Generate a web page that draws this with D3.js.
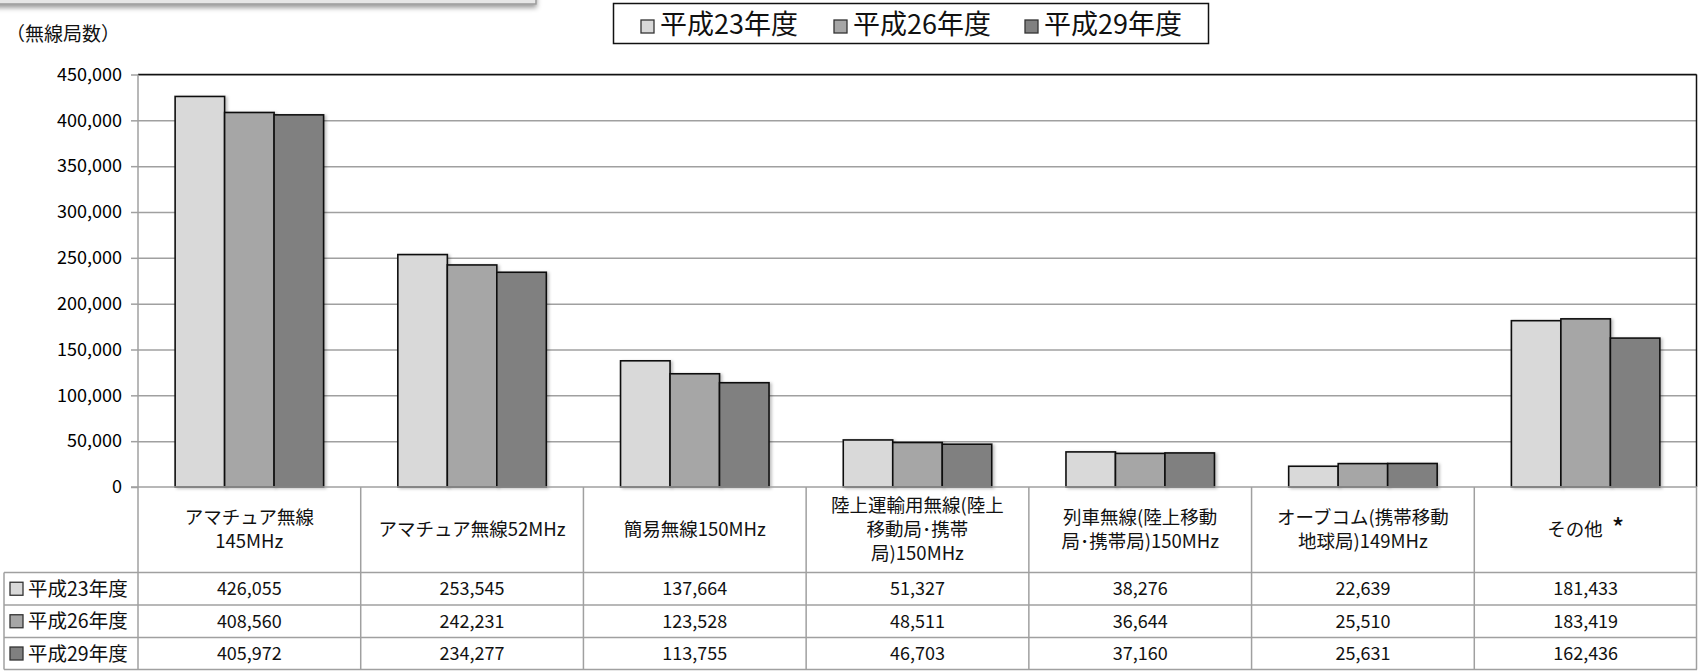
<!DOCTYPE html>
<html><head><meta charset="utf-8">
<script src="https://cdn.jsdelivr.net/npm/d3@7"></script>
<style>body{margin:0;background:#fff;overflow:hidden}</style>
</head><body><svg id="c" width="1698" height="671"></svg>
<script>
// ---- data ----
const categories = ["アマチュア無線145MHz","アマチュア無線52MHz","簡易無線150MHz","陸上運輸用無線(陸上移動局・携帯局)150MHz","列車無線(陸上移動局・携帯局)150MHz","オーブコム(携帯移動地球局)149MHz","その他 *"];
const categoryLines = [["アマチュア無線","145MHz"],["アマチュア無線52MHz"],["簡易無線150MHz"],["陸上運輸用無線(陸上","移動局･携帯","局)150MHz"],["列車無線(陸上移動","局･携帯局)150MHz"],["オーブコム(携帯移動","地球局)149MHz"],["その他\u2002*"]];
const seriesNames = ["平成23年度","平成26年度","平成29年度"];
const h23 = [426055,253545,137664,51327,38276,22639,181433];
const h26 = [408560,242231,123528,48511,36644,25510,183419];
const h29 = [405972,234277,113755,46703,37160,25631,162436];
const yTicks = [0,50000,100000,150000,200000,250000,300000,350000,400000,450000];
const yTitle = "（無線局数）";
const colors = ["#d9d9d9","#a6a6a6","#808080"];

const seriesValues = [h23,h26,h29];
const FONT = "'Noto Sans CJK JP', sans-serif";
const svg = d3.select("#c");
const L = 138, R = 1697, T = 74.5, B = 487;
const rowY = [572.5, 605, 637.5, 669.5];
const leftX = 4;

const defs = svg.append("defs");
const sh = defs.append("filter").attr("id","sh").attr("x","-20%").attr("y","-20%").attr("width","150%").attr("height","150%");
sh.append("feDropShadow").attr("dx",2).attr("dy",1).attr("stdDeviation",1.5).attr("flood-color","#000").attr("flood-opacity",0.25);
const sh2 = defs.append("filter").attr("id","sh2").attr("x","-5%").attr("y","-100%").attr("width","110%").attr("height","400%");
sh2.append("feDropShadow").attr("dx",0).attr("dy",3).attr("stdDeviation",2.5).attr("flood-color","#000").attr("flood-opacity",0.4);

// top-left cropped box
svg.append("rect").attr("x",-10).attr("y",-20).attr("width",546).attr("height",24)
  .attr("fill","#e6e6e6").attr("stroke","#9a9a9a").attr("stroke-width",1.5).attr("filter","url(#sh2)");

const x = d3.scaleBand().domain(categories).range([L,R]).paddingInner(0).paddingOuter(0);
const xs = d3.scaleBand().domain(seriesNames).range([0,x.bandwidth()]).paddingInner(0).paddingOuter(0.75);
const y = d3.scaleLinear().domain([0,450000]).range([B,T]);

// gridlines
const grid = svg.append("g").attr("transform",`translate(${L},0)`)
  .call(d3.axisLeft(y).tickValues(yTicks.filter(d=>d>0)).tickSize(-(R-L)).tickFormat(""));
grid.select(".domain").remove();
grid.selectAll("line").attr("stroke","#a0a0a0").attr("stroke-width",1.5);

// y axis
const ax = svg.append("g").attr("transform",`translate(${L},0)`)
  .call(d3.axisLeft(y).tickValues(yTicks).tickSize(7).tickPadding(9).tickFormat(d3.format(",")));
ax.select(".domain").remove();
ax.selectAll("line").attr("stroke","#a0a0a0").attr("stroke-width",1.5);
ax.selectAll("text").attr("font-family",FONT).attr("font-size",18).attr("fill","#000");

// plot border top/right
svg.append("line").attr("x1",L).attr("x2",R-0.5).attr("y1",T).attr("y2",T).attr("stroke","#111").attr("stroke-width",1.5);
svg.append("line").attr("x1",R-0.5).attr("x2",R-0.5).attr("y1",T).attr("y2",B).attr("stroke","#111").attr("stroke-width",1.5);

// bars
const gBars = svg.append("g");
seriesNames.forEach((s,si)=>{
  gBars.append("g").selectAll("rect").data(categories).join("rect")
    .attr("x",c=>x(c)+xs(s)).attr("width",xs.bandwidth())
    .attr("y",(c,i)=>y(seriesValues[si][i]))
    .attr("height",(c,i)=>B-y(seriesValues[si][i]))
    .attr("fill",colors[si]).attr("stroke","#111").attr("stroke-width",1.6)
    .attr("filter","url(#sh)");
});

// table lines
const tl = svg.append("g").attr("stroke","#a0a0a0").attr("stroke-width",1.5);
tl.append("line").attr("x1",L-7).attr("x2",R).attr("y1",B).attr("y2",B);
rowY.forEach(v=>tl.append("line").attr("x1",leftX).attr("x2",R).attr("y1",v).attr("y2",v));
tl.append("line").attr("x1",L).attr("x2",L).attr("y1",T).attr("y2",rowY[3]);
tl.append("line").attr("x1",leftX).attr("x2",leftX).attr("y1",rowY[0]).attr("y2",rowY[3]);
categories.forEach(c=>{
  const xe = x(c)+x.bandwidth();
  tl.append("line").attr("x1",xe-(xe>=R?0.5:0)).attr("x2",xe-(xe>=R?0.5:0)).attr("y1",B).attr("y2",rowY[3]);
});

// category labels
const catMid = (B+rowY[0])/2, lh = 24;
categories.forEach((c,i)=>{
  const lines = categoryLines[i];
  const t = svg.append("text").attr("font-family",FONT).attr("font-size",18.5).attr("text-anchor","middle").attr("fill","#111");
  lines.forEach((ln,j)=>{
    const yy = catMid+(j-(lines.length-1)/2)*lh;
    if (ln.endsWith("*")) {
      t.append("tspan").attr("x",x(c)+x.bandwidth()/2).attr("y",yy).attr("dy","0.35em").text(ln.slice(0,-1));
      t.append("tspan").attr("font-size",25).attr("font-weight",500).attr("dy","0.05em").text("*");
    } else {
      t.append("tspan").attr("x",x(c)+x.bandwidth()/2).attr("y",yy).attr("dy","0.35em").text(ln);
    }
  });
});

// data rows
seriesNames.forEach((s,si)=>{
  const cy = (rowY[si]+rowY[si+1])/2;
  svg.append("rect").attr("x",10).attr("y",cy-6.5).attr("width",13).attr("height",13)
    .attr("fill",colors[si]).attr("stroke","#333").attr("stroke-width",1.3);
  svg.append("text").attr("x",28).attr("y",cy).attr("dy","0.36em").attr("font-family",FONT)
    .attr("font-size",19.5).attr("fill","#111").text(s);
  svg.append("g").selectAll("text").data(categories).join("text")
    .attr("x",c=>x(c)+x.bandwidth()/2).attr("y",cy).attr("dy","0.36em")
    .attr("text-anchor","middle").attr("font-family",FONT).attr("font-size",18).attr("fill","#111")
    .text((c,i)=>d3.format(",")(seriesValues[si][i]));
});

// y title
svg.append("text").attr("x",6).attr("y",34).attr("dy","0.35em").attr("font-family",FONT)
  .attr("font-size",19).attr("fill","#111").text(yTitle);

// legend
svg.append("rect").attr("x",613.5).attr("y",3.5).attr("width",595).attr("height",40)
  .attr("fill","#fff").attr("stroke","#111").attr("stroke-width",1.5);
const legX = [641,834,1025];
seriesNames.forEach((s,si)=>{
  svg.append("rect").attr("x",legX[si]).attr("y",20).attr("width",13).attr("height",13)
    .attr("fill",colors[si]).attr("stroke","#333").attr("stroke-width",1.3);
  svg.append("text").attr("x",legX[si]+19).attr("y",24).attr("dy","0.36em").attr("font-family",FONT)
    .attr("font-size",27).attr("fill","#111").text(s);
});
</script></body></html>
